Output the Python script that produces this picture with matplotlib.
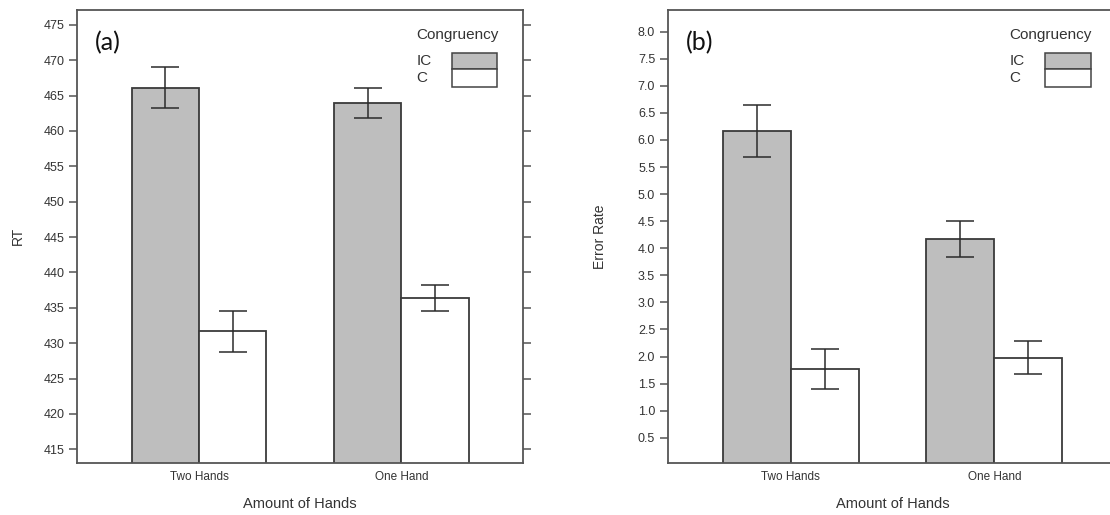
import numpy as np
import matplotlib.pyplot as plt
from matplotlib.patches import Rectangle

plt.rcParams['font.family'] = ['Liberation Sans', 'DejaVu Sans']

groups = ["Two Hands", "One Hand"]
conditions = ["IC", "C"]

rt_ic = [466.1, 464.0]
rt_ic_err = [2.9, 2.1]
rt_c = [431.7, 436.4]
rt_c_err = [2.9, 1.8]

err_ic = [6.17, 4.17]
err_ic_err = [0.48, 0.34]
err_c = [1.77, 1.98]
err_c_err = [0.37, 0.31]

rt_ticks = np.arange(415, 476, 5)
err_ticks = np.arange(0.5, 8.01, 0.5)

fill = {"IC": "#bebebe", "C": "#ffffff"}
edge = "#3a3a3a"
axis_col = "#555555"
text_col = "#333333"

fig = plt.figure(figsize=(11.1, 5.15), dpi=100)
ax1 = fig.add_axes([0.0691, 0.1016, 0.4023, 0.8790])
ax2 = fig.add_axes([0.6015, 0.1016, 0.4048, 0.8790])


def panel(ax, ic, ic_e, c, c_e, ticks, ylim, fmt, ylabel, tag):
    # beside-style bars: width 1, one unit gap between groups
    ic_x = np.array([1.5, 4.5])
    c_x = ic_x + 1
    ax.bar(ic_x, ic, width=1, bottom=0, color=fill["IC"], edgecolor=edge, linewidth=1.3, zorder=2)
    ax.bar(c_x, c, width=1, bottom=0, color=fill["C"], edgecolor=edge, linewidth=1.3, zorder=2)
    for xs, ys, es in [(ic_x, ic, ic_e), (c_x, c, c_e)]:
        ax.errorbar(xs, ys, yerr=es, fmt="none", ecolor="#2b2b2b", elinewidth=1.1,
                    capsize=10, capthick=1.1, zorder=3)
    ax.set_xlim(0.184, 6.81)
    ax.set_ylim(*ylim)
    ax.set_xticks((ic_x + c_x) / 2)
    ax.set_xticklabels(groups, fontsize=8.5, color=text_col)
    ax.tick_params(axis="x", length=0, pad=6)
    ax.set_yticks(ticks)
    ax.set_yticklabels([fmt.format(t) for t in ticks], fontsize=9, color=text_col)
    ax.tick_params(axis="y", which="both", direction="out", length=6, width=1.1,
                   color=axis_col, right=True, pad=3)
    for s in ax.spines.values():
        s.set_color(axis_col)
        s.set_linewidth(1.3)
    ax.set_xlabel("Amount of Hands", fontsize=10.5, color=text_col, labelpad=10)
    ax.set_ylabel(ylabel, fontsize=10, color=text_col)
    ax.text(0.041, 0.928, tag, transform=ax.transAxes, fontsize=18, family=["Lato", "DejaVu Sans"],
            color="#111111", va="center", ha="left")

    # legend: labels on the left, stacked fill boxes on the right
    ax.text(0.8515, 0.9448, "Congruency", transform=ax.transAxes, fontsize=11,
            color=text_col, ha="center", va="center")
    x0, w = 0.8397, 0.1021
    rows = [(conditions[0], 0.8690, 0.9057), (conditions[1], 0.8292, 0.8690)]
    for name, y0, y1 in rows:
        ax.add_patch(Rectangle((x0, y0), w, y1 - y0, transform=ax.transAxes,
                               facecolor=fill[name], edgecolor="#444444", linewidth=1.1,
                               clip_on=False, zorder=4))
        ax.text(0.7613, (y0 + y1) / 2, name, transform=ax.transAxes, fontsize=11,
                color=text_col, ha="left", va="center")


panel(ax1, rt_ic, rt_ic_err, rt_c, rt_c_err, rt_ticks, (413.1, 477.1), "{:.0f}", "RT", "(a)")
panel(ax2, err_ic, err_ic_err, err_c, err_c_err, err_ticks, (0.04, 8.4), "{:.1f}", "Error Rate", "(b)")

ax1.yaxis.set_label_coords(-0.115, 0.5)
ax2.yaxis.set_label_coords(-0.136, 0.5)

fig.savefig("out.png", dpi=100)
